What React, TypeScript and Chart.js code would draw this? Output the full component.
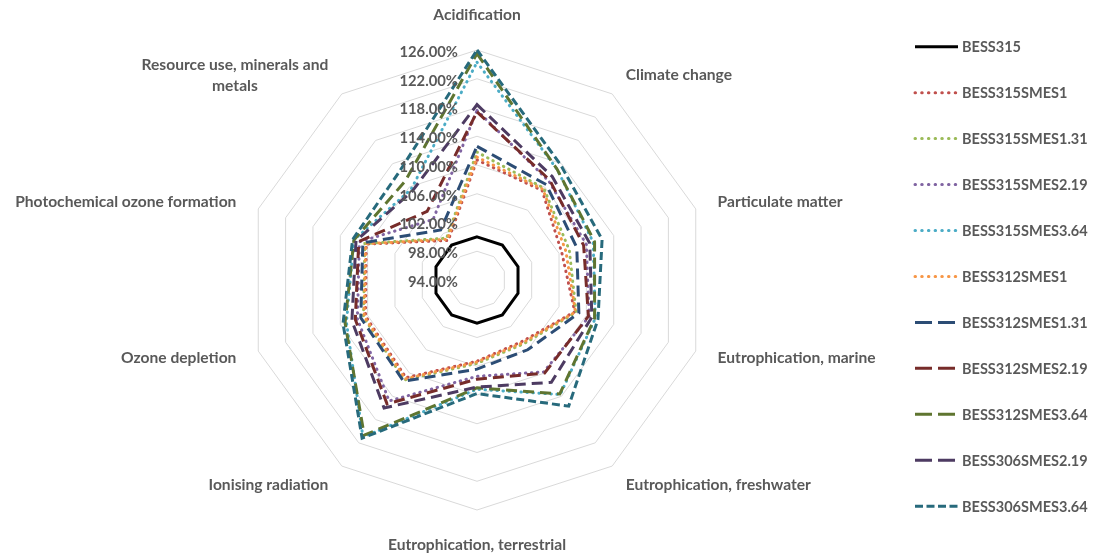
import React, { useEffect, useRef } from "react";
import { Chart, registerables } from "chart.js";

Chart.register(...registerables);

// Impact categories, clockwise from the top
const CATEGORIES: (string | string[])[] = [
  "Acidification",
  "Climate change",
  "Particulate matter",
  "Eutrophication, marine",
  "Eutrophication, freshwater",
  "Eutrophication, terrestrial",
  "Ionising radiation",
  "Ozone depletion",
  "Photochemical ozone formation",
  ["Resource use, minerals and", "metals"],
];

// Radial axis range (%)
const SCALE_MIN = 94;
const SCALE_MAX = 126;
const SCALE_STEP = 4;

// Relative impact of each configuration (%), same order as CATEGORIES
const BESS315 = [100, 100, 100, 100, 100, 100, 100, 100, 100, 100];
const BESS315SMES1 = [110.7, 109.4, 106.4, 108.3, 104.6, 105.3, 110.8, 110.3, 110.2, 100.8];
const BESS315SMES1_31 = [111.8, 109.8, 107.5, 108.5, 105.0, 105.6, 111.2, 110.6, 110.4, 101.2];
const BESS315SMES2_19 = [117.6, 111.0, 110.0, 110.4, 109.8, 107.4, 114.8, 111.5, 111.2, 104.4];
const BESS315SMES3_64 = [124.3, 113.0, 111.0, 111.3, 113.7, 109.2, 121.0, 113.1, 112.0, 109.6];
const BESS312SMES1 = [111.1, 109.6, 107.0, 108.4, 104.8, 105.4, 111.0, 110.5, 110.3, 101.0];
const BESS312SMES1_31 = [112.6, 110.4, 108.6, 108.9, 106.0, 106.4, 111.4, 111.0, 110.7, 102.6];
const BESS312SMES2_19 = [117.4, 111.2, 109.6, 110.3, 110.0, 107.8, 115.3, 111.8, 111.3, 105.8];
const BESS312SMES3_64 = [125.5, 113.0, 111.2, 111.2, 113.6, 109.0, 120.7, 113.3, 112.0, 111.0];
const BESS306SMES2_19 = [118.4, 111.8, 110.5, 110.8, 111.6, 108.9, 116.0, 112.3, 111.7, 109.3];
const BESS306SMES3_64 = [126.0, 113.8, 112.3, 111.7, 115.7, 109.8, 121.2, 113.6, 112.2, 112.5];

const SERIES_NAMES = [
  "BESS315",
  "BESS315SMES1",
  "BESS315SMES1.31",
  "BESS315SMES2.19",
  "BESS315SMES3.64",
  "BESS312SMES1",
  "BESS312SMES1.31",
  "BESS312SMES2.19",
  "BESS312SMES3.64",
  "BESS306SMES2.19",
  "BESS306SMES3.64",
];

const SERIES_VALUES = [
  BESS315,
  BESS315SMES1,
  BESS315SMES1_31,
  BESS315SMES2_19,
  BESS315SMES3_64,
  BESS312SMES1,
  BESS312SMES1_31,
  BESS312SMES2_19,
  BESS312SMES3_64,
  BESS306SMES2_19,
  BESS306SMES3_64,
];

const SERIES_COLORS = [
  "#000000",
  "#C0504D",
  "#9BBB59",
  "#8064A2",
  "#4BACC6",
  "#F79646",
  "#2C4D75",
  "#772C2A",
  "#5F7530",
  "#4D3B62",
  "#276A7C",
];

type LineKind = "solid" | "dot" | "dash" | "shortdash";
const SERIES_KINDS: LineKind[] = [
  "solid",
  "dot",
  "dot",
  "dot",
  "dot",
  "dot",
  "dash",
  "dash",
  "dash",
  "dash",
  "shortdash",
];

const FONT_FAMILY = "Lato, 'Open Sans', sans-serif";
const TEXT_COLOR = "#595959";

function strokeFor(kind: LineKind) {
  switch (kind) {
    case "dot":
      return { dash: [0.5, 5.5], key: [0.5, 6.2], cap: "round" as CanvasLineCap };
    case "dash":
      return { dash: [11, 6], key: [17, 6], cap: "butt" as CanvasLineCap };
    case "shortdash":
      return { dash: [8, 4], key: [8, 3.5], cap: "butt" as CanvasLineCap };
    default:
      return { dash: [] as number[], key: [] as number[], cap: "butt" as CanvasLineCap };
  }
}

// Percentage labels along the upward axis, left of it
const tickLabelPlugin = {
  id: "tickLabels",
  afterDraw(chart: any) {
    const scale = chart.scales.r;
    const ctx: CanvasRenderingContext2D = chart.ctx;
    ctx.save();
    ctx.font = `bold 14.8px ${FONT_FAMILY}`;
    ctx.fillStyle = TEXT_COLOR;
    ctx.textAlign = "right";
    ctx.textBaseline = "middle";
    for (const t of scale.ticks) {
      const d = scale.getDistanceFromCenterForValue(t.value);
      ctx.fillText(`${Number(t.value).toFixed(2)}%`, scale.xCenter - 19, scale.yCenter - d + 2);
    }
    ctx.restore();
  },
};

// Category names around the outer ring
const axisLabelPlugin = {
  id: "axisLabels",
  afterDraw(chart: any) {
    const scale = chart.scales.r;
    const ctx: CanvasRenderingContext2D = chart.ctx;
    const labels = chart.data.labels as (string | string[])[];
    const n = labels.length;
    const lineH = 20.7;
    ctx.save();
    ctx.font = `bold 15.6px ${FONT_FAMILY}`;
    ctx.fillStyle = TEXT_COLOR;
    ctx.textBaseline = "middle";
    labels.forEach((lab, i) => {
      const p = scale.getPointPosition(i, scale.drawingArea + 23);
      const deg = (i * 360) / n;
      const lines = Array.isArray(lab) ? lab : [lab];
      const widths = lines.map((l) => ctx.measureText(l).width);
      const blockW = Math.max(...widths);
      const blockH = lines.length * lineH;
      let cx: number;
      if (deg === 0 || deg === 180) cx = p.x;
      else if (deg < 180) cx = p.x + blockW / 2;
      else cx = p.x - blockW / 2;
      let cy = p.y;
      if (deg === 0) cy = p.y - 1.5 - blockH / 2;
      if (deg === 180) cy = p.y + 1.5 + blockH / 2;
      ctx.textAlign = "center";
      lines.forEach((l, k) => {
        const y = cy - blockH / 2 + lineH * (k + 0.5);
        ctx.fillText(l, cx, y);
      });
    });
    ctx.restore();
  },
};

// Series key on the right side
const LEGEND_X = 915;
const LEGEND_SAMPLE = 43;
const LEGEND_TEXT_X = 962;
const LEGEND_TOP = 46.7;
const LEGEND_GAP = 45.95;

const legendPlugin = {
  id: "sideLegend",
  afterDraw(chart: any) {
    const ctx: CanvasRenderingContext2D = chart.ctx;
    ctx.save();
    ctx.font = `bold 14.5px ${FONT_FAMILY}`;
    ctx.textAlign = "left";
    ctx.textBaseline = "middle";
    chart.data.datasets.forEach((ds: any, i: number) => {
      const y = LEGEND_TOP + i * LEGEND_GAP;
      const s = strokeFor(SERIES_KINDS[i]);
      ctx.beginPath();
      ctx.strokeStyle = ds.borderColor;
      ctx.lineWidth = ds.borderWidth;
      ctx.lineCap = s.cap;
      ctx.setLineDash(s.key);
      ctx.moveTo(LEGEND_X, y);
      ctx.lineTo(LEGEND_X + LEGEND_SAMPLE, y);
      ctx.stroke();
      ctx.setLineDash([]);
      ctx.fillStyle = TEXT_COLOR;
      ctx.fillText(ds.label, LEGEND_TEXT_X, y + 1);
    });
    ctx.restore();
  },
};

export default function App() {
  const canvasRef = useRef<HTMLCanvasElement | null>(null);

  useEffect(() => {
    const canvas = canvasRef.current;
    if (!canvas) return;
    const count = SERIES_NAMES.length;
    const datasets = SERIES_NAMES.map((name, i) => {
      const s = strokeFor(SERIES_KINDS[i]);
      return {
        label: name,
        data: SERIES_VALUES[i],
        borderColor: SERIES_COLORS[i],
        backgroundColor: SERIES_COLORS[i],
        borderWidth: 3,
        borderDash: s.dash,
        borderCapStyle: s.cap,
        borderJoinStyle: "miter" as CanvasLineJoin,
        fill: false,
        pointRadius: 0,
        pointHoverRadius: 0,
        tension: 0,
        clip: false as const,
        order: count - i,
      };
    });

    const chart = new Chart(canvas, {
      type: "radar",
      data: { labels: CATEGORIES as any, datasets: datasets as any },
      options: {
        responsive: false,
        animation: false,
        events: [],
        layout: { padding: { left: 247, right: 386, top: 50, bottom: 47 } },
        plugins: {
          legend: { display: false },
          tooltip: { enabled: false },
        },
        scales: {
          r: {
            min: SCALE_MIN,
            max: SCALE_MAX,
            ticks: { stepSize: SCALE_STEP, display: false },
            grid: { color: "#D9D9D9", lineWidth: 1 },
            angleLines: { display: false },
            pointLabels: { display: false },
          },
        },
      },
      plugins: [tickLabelPlugin, axisLabelPlugin, legendPlugin],
    });
    return () => chart.destroy();
  }, []);

  return (
    <div style={{ position: "fixed", left: 0, top: 0, width: 1093, height: 557, background: "#ffffff" }}>
      <canvas ref={canvasRef} width={1093} height={557} style={{ display: "block", width: 1093, height: 557 }} />
    </div>
  );
}
